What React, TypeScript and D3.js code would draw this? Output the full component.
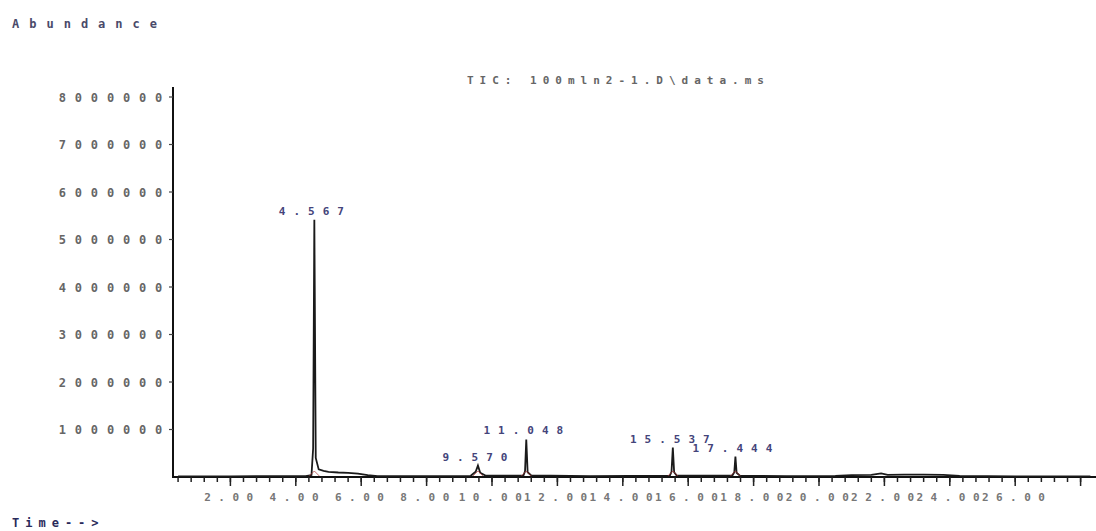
import * as d3 from "d3";

const W = 1096;
const H = 531;

// chromatogram trace (time in min, abundance)
const traceTime = [
  0.4, 2.0, 4.3, 4.48, 4.53, 4.567, 4.61, 4.7, 4.85, 5.0, 5.3, 5.6, 5.9, 6.2, 6.5,
  8.0, 9.35, 9.5, 9.57, 9.64, 9.8, 10.96, 11.01, 11.048, 11.09, 11.2, 13.0,
  15.44, 15.49, 15.53, 15.57, 15.65, 17.35, 17.41, 17.444, 17.48, 17.58, 19.0,
  20.5, 21.0, 21.6, 21.9, 22.1, 22.6, 23.2, 23.8, 24.3, 26.0, 28.3,
];
const traceAbundance = [
  15000, 15000, 20000, 40000, 600000, 5415000, 400000, 160000, 130000, 110000, 95000, 85000, 70000, 40000, 20000,
  20000, 25000, 110000, 240000, 90000, 30000, 30000, 120000, 790000, 100000, 35000, 20000,
  30000, 110000, 620000, 100000, 30000, 30000, 100000, 430000, 90000, 30000, 20000,
  25000, 40000, 45000, 75000, 45000, 50000, 50000, 45000, 25000, 15000, 15000,
];

const peakTimes = [4.567, 9.57, 11.048, 15.53, 17.444];
const peakHeights = [5415000, 240000, 790000, 620000, 430000];
const peakLabels = ["4.567", "9.570", "11.048", "15.537", "17.444"];

const yTicks = [1000000, 2000000, 3000000, 4000000, 5000000, 6000000, 7000000, 8000000];
const xMajorTicks = d3.range(2, 28.01, 2);
const xMinorTicks = d3.range(0.4, 28.2, 0.4);

const FONT = "'DejaVu Sans Mono', 'Liberation Mono', monospace";

export default function App() {
  const x = d3.scaleLinear().domain([0, 28]).range([165, 165 + 28 * 32.7]);
  const y = d3.scaleLinear().domain([0, 8000000]).range([477, 97]);

  const axisLeft = 173;
  const axisBottom = y(0);

  const pts = traceTime.map((t, i) => [t, traceAbundance[i]] as [number, number]);
  const line = d3
    .line<[number, number]>()
    .x((d) => Math.max(axisLeft, x(d[0])))
    .y((d) => y(d[1]));

  return (
    <svg
      width={W}
      height={H}
      style={{ position: "absolute", left: 0, top: 0, background: "#fff" }}
      fontFamily={FONT}
      fontWeight="bold"
    >
      {/* header texts */}
      <text x={12} y={28} fontSize={12} letterSpacing={10} fill="#4a4a6a">
        Abundance
      </text>
      <text x={467} y={84} fontSize={11} letterSpacing={6} fill="#666">
        TIC: 100mln2-1.D\data.ms
      </text>
      <text x={12} y={527} fontSize={12} letterSpacing={6} fill="#2a2a5a">
        Time--&gt;
      </text>

      {/* y axis */}
      <line x1={axisLeft} x2={axisLeft} y1={87} y2={axisBottom + 1} stroke="#111" strokeWidth={2} />
      {yTicks.map((v) => (
        <g key={v}>
          <line x1={axisLeft - 4} x2={axisLeft} y1={y(v)} y2={y(v)} stroke="#444" strokeWidth={1.2} />
          <text
            x={171}
            y={y(v) + 4.5}
            textAnchor="end"
            fontSize={12}
            letterSpacing={8.8}
            fill="#666"
          >
            {v}
          </text>
        </g>
      ))}

      {/* x axis */}
      <line x1={axisLeft} x2={W} y1={axisBottom} y2={axisBottom} stroke="#111" strokeWidth={2} />
      {xMinorTicks.map((t, i) => (
        <line
          key={"m" + i}
          x1={x(t)}
          x2={x(t)}
          y1={axisBottom}
          y2={axisBottom + 5}
          stroke="#222"
          strokeWidth={1.5}
        />
      ))}
      {xMajorTicks.map((t) => (
        <line
          key={"M" + t}
          x1={x(t)}
          x2={x(t)}
          y1={axisBottom}
          y2={axisBottom + 9}
          stroke="#222"
          strokeWidth={1.5}
        />
      ))}
      {xMajorTicks
        .filter((t) => t <= 26)
        .map((t) => (
          <text
            key={"l" + t}
            x={x(t) + 2}
            y={501}
            textAnchor="middle"
            fontSize={11}
            letterSpacing={7.5}
            fill="#777"
          >
            {t.toFixed(2)}
          </text>
        ))}

      {/* trace */}
      <path d={line(pts) ?? ""} fill="none" stroke="#1a1a1a" strokeWidth={1.8} />

      {/* integration marks at peak bases */}
      {peakTimes.map((t) => (
        <path
          key={"r" + t}
          d={`M${x(t) - 5},${axisBottom - 1}L${x(t)},${axisBottom - 6}L${x(t) + 5},${axisBottom - 1}`}
          fill="none"
          stroke="#a33"
          strokeWidth={1}
          opacity={0.7}
        />
      ))}

      {/* peak labels */}
      {peakTimes.map((t, i) => (
        <text
          key={"p" + t}
          x={x(t) + 1}
          y={y(peakHeights[i]) - 5}
          textAnchor="middle"
          fontSize={11}
          letterSpacing={8}
          fill="#44447a"
        >
          {peakLabels[i]}
        </text>
      ))}
    </svg>
  );
}
